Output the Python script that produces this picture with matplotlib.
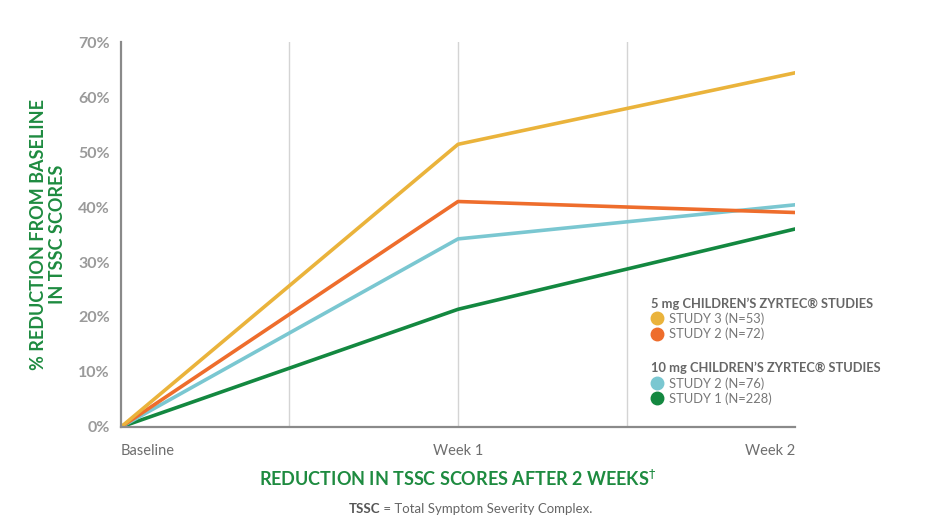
import matplotlib
matplotlib.use('Agg')
import matplotlib.pyplot as plt
from matplotlib.lines import Line2D

plt.rcParams['font.family'] = ['Lato', 'DejaVu Sans']

x_labels = ['Baseline', 'Week 1', 'Week 2']
x_pos = [0, 1, 2]
study3_5mg = [0, 51.4, 64.4]
study2_5mg = [0, 41.0, 39.0]
study2_10mg = [0, 34.2, 40.4]
study1_10mg = [0, 21.4, 36.0]

c_yellow = '#EAB33B'
c_orange = '#EE6D2C'
c_blue = '#7AC7D1'
c_green = '#138840'
c_title = '#1E8B40'

fig = plt.figure(figsize=(9.46, 5.32), dpi=100)
ax = fig.add_axes([0.1279, 0.1974, 0.7125, 0.7236])

for xg in [0.5, 1, 1.5]:
    ax.axvline(xg, color='#D4D4D4', lw=1, zorder=0)

ax.plot(x_pos, study1_10mg, color=c_green, lw=2.6)
ax.plot(x_pos, study2_10mg, color=c_blue, lw=2.6)
ax.plot(x_pos, study2_5mg, color=c_orange, lw=2.6)
ax.plot(x_pos, study3_5mg, color=c_yellow, lw=2.6)

ax.set_xlim(0, 2)
ax.set_ylim(0, 70)
ax.set_yticks(range(0, 71, 10))
ax.set_yticklabels([f'{v}%' for v in range(0, 71, 10)], fontsize=11.5,
                   fontweight='bold', color='#9A9A9A')
ax.set_xticks(x_pos)
ax.set_xticklabels(x_labels, fontsize=10.5, color='#6E6E6E')
ax.tick_params(length=0)
ax.tick_params(axis='y', pad=8)
ax.tick_params(axis='x', pad=12)
xt = ax.get_xticklabels()
xt[0].set_ha('left')
xt[0].set_x(-0.02)
xt[2].set_ha('right')
for s in ['top', 'right']:
    ax.spines[s].set_visible(False)
ax.spines['left'].set_color('#8A8A8A')
ax.spines['bottom'].set_color('#8A8A8A')
ax.spines['left'].set_linewidth(1.6)
ax.spines['bottom'].set_linewidth(1.6)

ax.set_ylabel('% REDUCTION FROM BASELINE\nIN TSSC SCORES', fontsize=13,
              fontweight='bold', color=c_title, labelpad=9, linespacing=1.15)
ax.set_xlabel('REDUCTION IN TSSC SCORES AFTER 2 WEEKS$^{\\dagger}$', fontsize=13,
              fontweight='bold', color=c_title, labelpad=8)

fig.text(0.402, 0.035, 'TSSC', fontsize=9.5, fontweight='bold', color='#555555', ha='right')
fig.text(0.402, 0.035, ' = Total Symptom Severity Complex.', fontsize=9.5,
         color='#666666', ha='left')


def mk(c):
    return Line2D([], [], marker='o', ls='none', color=c, markersize=9)


leg_kw = dict(loc='upper left', frameon=False, fontsize=9.3, alignment='left',
              handletextpad=0.4, labelspacing=0.2, borderaxespad=0,
              handlelength=1.0, title_fontproperties={'weight': 'bold', 'size': 9.3})
leg1 = ax.legend([mk(c_yellow), mk(c_orange)], ['STUDY 3 (N=53)', 'STUDY 2 (N=72)'],
                 title="5 mg CHILDREN’S ZYRTEC® STUDIES",
                 bbox_to_anchor=(0.778, 0.35), **leg_kw)
ax.add_artist(leg1)
leg2 = ax.legend([mk(c_blue), mk(c_green)], ['STUDY 2 (N=76)', 'STUDY 1 (N=228)'],
                 title="10 mg CHILDREN’S ZYRTEC® STUDIES",
                 bbox_to_anchor=(0.778, 0.182), **leg_kw)
for lg in (leg1, leg2):
    lg.get_title().set_color('#666666')
    for t in lg.get_texts():
        t.set_color('#777777')

fig.savefig('out.png', dpi=100, facecolor='white')
